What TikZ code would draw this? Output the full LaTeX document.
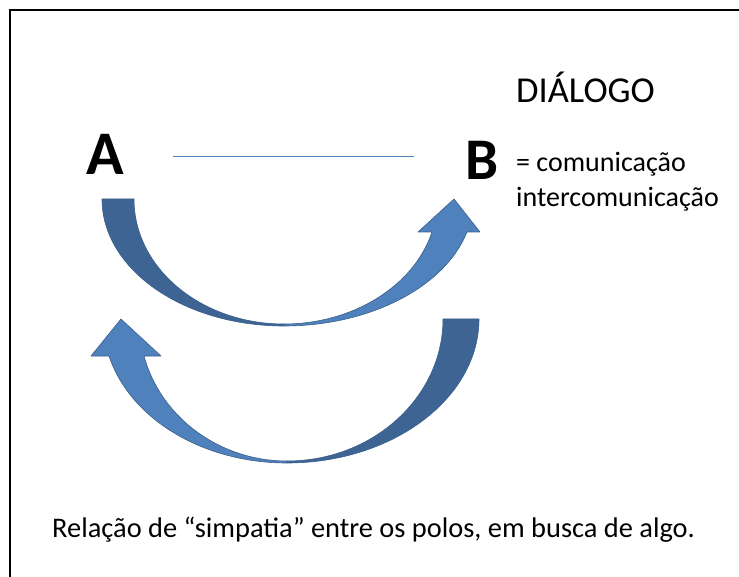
\documentclass[tikz,border=0pt]{standalone}
\usepackage{fontspec}
\setmainfont{Carlito}
\definecolor{arrowlight}{HTML}{4F81BD}
\definecolor{arrowdark}{HTML}{3E6494}
\definecolor{arrowline}{HTML}{3A5F8B}
\begin{document}
\begin{tikzpicture}[x=1pt, y=-1pt,
		back/.style={fill=arrowdark, draw=arrowline, line width=0.6pt, line join=round},
		front/.style={fill=arrowlight, draw=arrowline, line width=0.6pt, line join=round},
		txt/.style={anchor=base west, inner sep=0pt}]
		\useasboundingbox (0,0) rectangle (739,577);
		\draw[line width=2pt] (10,577) -- (10,10) -- (739,10);
		
		\node[txt, font=\bfseries\fontsize{62}{62}\selectfont] (A) at (86,175) {A};
		\node[txt, font=\bfseries\fontsize{59}{59}\selectfont] (B) at (465,180) {B};
		\node[txt, font=\fontsize{36.5}{36.5}\selectfont] (title) at (516,103) {DIÁLOGO};
		\node[txt, font=\fontsize{28}{28}\selectfont] (com) at (516,172) {= comunicação};
		\node[txt, font=\fontsize{28}{28}\selectfont] (intercom) at (516,207) {intercomunicação};
		\node[txt, font=\fontsize{28.4}{28.4}\selectfont] (note) at (52,537) {Relação de “simpatia” entre os polos, em busca de algo.};
		
		\coordinate (ab) at (173,157);
		\coordinate (ba) at ([xshift=-51pt]ab -| B.west);
		\draw[arrowlight, line width=1pt] (ab) -- (ba);
		
		% upper arrow, A to B
		\draw[back] (102,199) .. controls (102,269) and (183,326) .. (284,326)
			-- (284,324) .. controls (201,324) and (134,268) .. (134,199) -- cycle;
		\draw[front] (284,326) .. controls (370,326) and (445,287) .. (467,232)
			-- (480,232) -- (454,199) -- (418,232) -- (432,232)
			.. controls (414,286) and (353,324) .. (284,324) -- cycle;
		
		% lower arrow, B to A
		\draw[back] (479,319) .. controls (479,398) and (393,463) .. (287,463)
			-- (287,461) .. controls (373,461) and (443,397) .. (443,319) -- cycle;
		\draw[front] (287,463) .. controls (203,463) and (130,419) .. (109,356)
			-- (91,356) -- (121,319) -- (161,356) -- (144,356)
			.. controls (161,418) and (220,461) .. (287,461) -- cycle;
	\end{tikzpicture}
\end{document}
